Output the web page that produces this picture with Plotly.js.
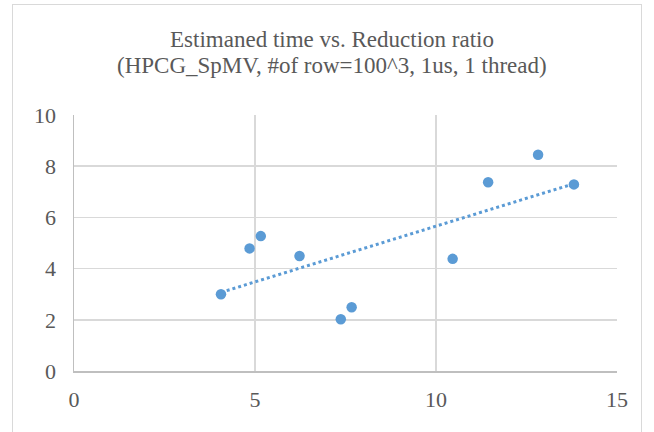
<!DOCTYPE html>
<html>
<head>
<meta charset="utf-8">
<script src="https://cdn.plot.ly/plotly-3.0.1.min.js"></script>
<style>
html,body{margin:0;padding:0;background:#fff;}
#wrap{position:relative;width:654px;height:432px;overflow:hidden;}
#chart{width:654px;height:432px;}
#frame{position:absolute;left:12px;top:4px;width:630px;height:440px;border:1.5px solid #d9d9d9;pointer-events:none;box-sizing:border-box;}
</style>
</head>
<body>
<div id="wrap"><div id="chart"></div><div id="frame"></div></div>
<script>
// Data
const reductionRatio = [4.06, 4.85, 5.16, 6.23, 7.37, 7.67, 10.46, 11.44, 12.82, 13.81];
const estimatedTime  = [3.00, 4.79, 5.27, 4.49, 2.02, 2.49, 4.38, 7.37, 8.45, 7.29];
const xTicks = [0, 5, 10, 15];
const yTicks = [0, 2, 4, 6, 8, 10];
const titleLine1 = 'Estimaned time vs. Reduction ratio';
const titleLine2 = '(HPCG_SpMV, #of row=100^3, 1us, 1 thread)';

// Linear trendline (least squares), as the spreadsheet draws it
const n = reductionRatio.length;
const mx = reductionRatio.reduce((a,b)=>a+b,0)/n;
const my = estimatedTime.reduce((a,b)=>a+b,0)/n;
let sxy = 0, sxx = 0;
for (let i = 0; i < n; i++) {
  sxy += (reductionRatio[i]-mx)*(estimatedTime[i]-my);
  sxx += (reductionRatio[i]-mx)*(reductionRatio[i]-mx);
}
const slope = sxy/sxx, intercept = my - slope*mx;
const xMin = Math.min(...reductionRatio), xMax = Math.max(...reductionRatio);
const trendX = [xMin, xMax];
const trendY = trendX.map(x => intercept + slope*x);

const blue = '#5B9BD5';
const font = "'Liberation Serif', 'DejaVu Serif', serif";
const txt = '#595959';

const traces = [
  {x: trendX, y: trendY, mode: 'lines', type: 'scatter',
   line: {color: blue, width: 3, dash: 'dot'}, hoverinfo: 'skip'},
  {x: reductionRatio, y: estimatedTime, mode: 'markers', type: 'scatter',
   marker: {color: blue, size: 10.5}}
];

const layout = {
  width: 654, height: 432,
  margin: {l: 74, r: 37, t: 115, b: 61},
  paper_bgcolor: '#fff', plot_bgcolor: '#fff',
  showlegend: false,
  font: {family: font, color: txt},
  title: {text: titleLine1, font: {family: font, size: 23, color: txt},
          xref: 'container', x: 332/654, xanchor: 'center',
          yref: 'container', y: 1 - 39/432, yanchor: 'middle'},
  annotations: [{text: titleLine2, showarrow: false,
                 xref: 'paper', x: (332-74)/543, xanchor: 'center',
                 yref: 'paper', y: (371-65)/256, yanchor: 'middle',
                 font: {family: font, size: 23, color: txt}}],
  xaxis: {range: [0, 15], tickvals: xTicks, ticktext: xTicks.map(String),
          showgrid: true, gridcolor: '#d9d9d9', gridwidth: 1.5,
          zeroline: false, showline: true, linecolor: '#bfbfbf', linewidth: 1.5,
          ticks: 'outside', ticklen: 8, tickcolor: 'rgba(0,0,0,0)',
          tickfont: {family: font, size: 22, color: txt}, fixedrange: true},
  yaxis: {range: [0, 10], tickvals: yTicks, ticktext: yTicks.map(String),
          showgrid: true, gridcolor: '#d9d9d9', gridwidth: 1.5,
          zeroline: false, showline: true, linecolor: '#bfbfbf', linewidth: 1.5,
          ticks: 'outside', ticklen: 12, tickcolor: 'rgba(0,0,0,0)',
          tickfont: {family: font, size: 22, color: txt}, fixedrange: true}
};

Plotly.newPlot('chart', traces, layout, {displayModeBar: false, staticPlot: true});
</script>
</body>
</html>
